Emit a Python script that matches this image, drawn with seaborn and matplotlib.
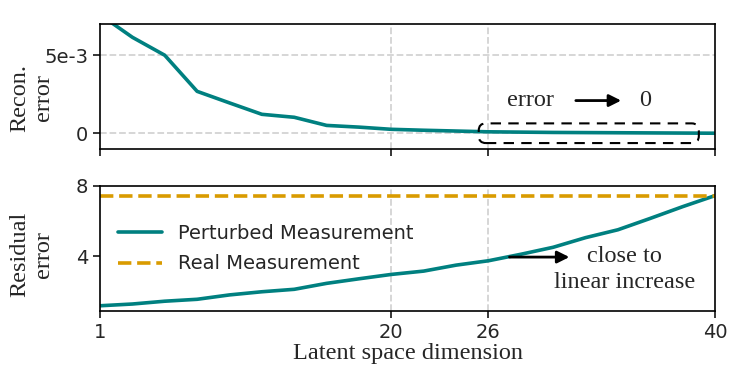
import numpy as np
import pandas as pd
import matplotlib
matplotlib.use("Agg")
import matplotlib.pyplot as plt
from matplotlib.patches import FancyBboxPatch
import seaborn as sns

# latent space dimensions that were evaluated (plotted at equal spacing)
dims = [1, 4, 6, 8, 10, 12, 14, 16, 18, 20, 22, 24, 26, 28, 30, 32, 34, 36, 38, 40]
recon_error = [7.6e-3, 6.15e-3, 5.0e-3, 2.69e-3, 1.95e-3, 1.22e-3, 1.03e-3, 0.51e-3,
               0.40e-3, 0.26e-3, 0.20e-3, 0.15e-3, 0.10e-3, 0.08e-3, 0.06e-3, 0.05e-3,
               0.04e-3, 0.03e-3, 0.02e-3, 0.01e-3]
residual_perturbed = [1.16, 1.26, 1.42, 1.53, 1.78, 1.96, 2.10, 2.44, 2.70, 2.95,
                      3.14, 3.48, 3.73, 4.10, 4.50, 5.05, 5.50, 6.15, 6.82, 7.45]
residual_real = 7.45
tick_dims = [1, 20, 26, 40]

TEAL = "#008080"
GOLD = "#D99B00"
GRID = "#d3d3d3"
SERIF = "Liberation Serif"

sns.set_style("ticks")
plt.rcParams["font.family"] = ["DejaVu Sans"]
plt.rcParams["xtick.labelsize"] = 14
plt.rcParams["ytick.labelsize"] = 14

df = pd.DataFrame({"pos": range(len(dims)), "dim": dims,
                   "recon": recon_error, "resid": residual_perturbed})
tick_pos = [dims.index(d) for d in tick_dims]

fig = plt.figure(figsize=(7.47, 3.74), dpi=100)
ax1 = fig.add_axes([0.1339, 0.6016, 0.8233, 0.3342])
ax2 = fig.add_axes([0.1339, 0.1684, 0.8233, 0.3343])

for ax in (ax1, ax2):
    for s in ax.spines.values():
        s.set_linewidth(1.2)
        s.set_color("black")
    ax.set_xlim(0, len(dims) - 1)
    ax.set_xticks(tick_pos)
    ax.tick_params(length=5, width=1.1, color="black")
    for p in tick_pos[1:-1]:
        ax.axvline(p, color=GRID, ls="--", lw=1.3, zorder=0)

# top: reconstruction error
sns.lineplot(data=df, x="pos", y="recon", ax=ax1, color=TEAL, lw=2.6)
ax1.set_ylim(-1e-3, 7e-3)
ax1.set_yticks([0, 5e-3])
ax1.set_yticklabels(["0", "5e-3"])
ax1.set_xticklabels([])
for v in [0, 5e-3]:
    ax1.axhline(v, color=GRID, ls="--", lw=1.3, zorder=0)
ax1.set_xlabel("")
ax1.set_ylabel("Recon.\nerror", family=SERIF, fontsize=17.5, linespacing=1.15)
ax1.yaxis.set_label_coords(-0.075, 0.41)

box = FancyBboxPatch((11.7, -0.62e-3), 6.8, 1.26e-3,
                     boxstyle="round,pad=0,rounding_size=0.22",
                     mutation_aspect=2.08e-3, fill=False, ec="black",
                     ls=(0, (5, 3.5)), lw=1.5, zorder=5)
ax1.add_patch(box)
ax1.text(13.3, 2.1e-3, "error", family=SERIF, fontsize=17.5, ha="center", va="center")
ax1.annotate("", xy=(16.1, 2.1e-3), xytext=(14.7, 2.1e-3),
             arrowprops=dict(arrowstyle="-|>", color="black", lw=2,
                             mutation_scale=18, shrinkA=0, shrinkB=0))
ax1.text(16.85, 2.1e-3, "0", family=SERIF, fontsize=17.5, ha="center", va="center")

# bottom: residual error
sns.lineplot(data=df, x="pos", y="resid", ax=ax2, color=TEAL, lw=2.6,
             label="Perturbed Measurement")
ax2.axhline(residual_real, color=GOLD, ls="--", lw=2.6, label="Real Measurement")
ax2.set_ylim(0.86, 8)
ax2.set_yticks([4, 8])
ax2.set_xticklabels([str(d) for d in tick_dims])
ax2.set_xlabel("Latent space dimension", family=SERIF, fontsize=17.5, labelpad=1)
ax2.set_ylabel("Residual\nerror", family=SERIF, fontsize=17.5, linespacing=1.15)
ax2.yaxis.set_label_coords(-0.075, 0.45)
ax2.legend(loc="center left", frameon=False, fontsize=14, handlelength=2.3,
           labelspacing=0.6)

ax2.annotate("", xy=(14.5, 3.94), xytext=(12.65, 3.94),
             arrowprops=dict(arrowstyle="-|>", color="black", lw=2,
                             mutation_scale=18, shrinkA=0, shrinkB=0))
ax2.text(16.2, 3.22, "close to\nlinear increase", family=SERIF, fontsize=17.5,
         ha="center", va="center", linespacing=1.3)

fig.savefig("out.png", dpi=100)
